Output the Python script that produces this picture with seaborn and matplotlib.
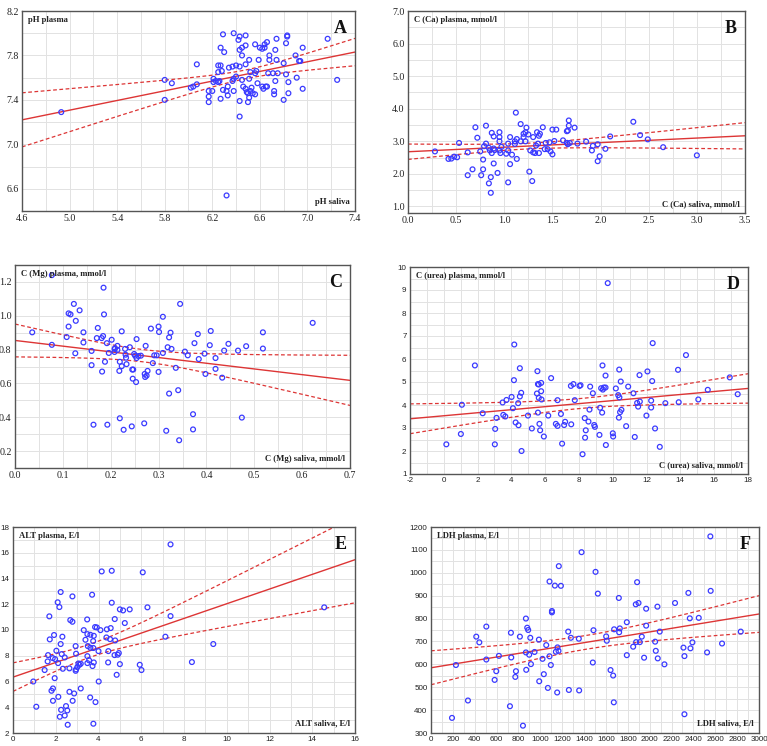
import numpy as np
import matplotlib
matplotlib.use("Agg")
import matplotlib.pyplot as plt
import seaborn as sns
from matplotlib.ticker import MultipleLocator

# ---- data ----
ph_saliva = [4.93, 5.80, 5.80, 5.86, 6.02, 6.04, 6.07, 6.07, 6.17, 6.17, 6.17, 6.20, 6.21, 6.21,
             6.23, 6.25, 6.25, 6.25, 6.26, 6.27, 6.27, 6.28, 6.27, 6.29, 6.30, 6.29, 6.32, 6.33,
             6.33, 6.34, 6.32, 6.37, 6.37, 6.38, 6.38, 6.38, 6.40, 6.40, 6.42, 6.43, 6.43, 6.43,
             6.43, 6.43, 6.45, 6.45, 6.45, 6.46, 6.48, 6.48, 6.48, 6.48, 6.49, 6.50, 6.50, 6.51,
             6.51, 6.51, 6.52, 6.52, 6.53, 6.54, 6.56, 6.56, 6.56, 6.57, 6.58, 6.59, 6.60, 6.62,
             6.62, 6.63, 6.64, 6.64, 6.65, 6.66, 6.66, 6.67, 6.68, 6.68, 6.71, 6.72, 6.72, 6.73,
             6.73, 6.74, 6.74, 6.75, 6.80, 6.80, 6.82, 6.82, 6.83, 6.83, 6.84, 6.84, 6.90, 6.91,
             6.93, 6.94, 6.96, 6.96, 7.17, 7.25]
ph_plasma = [7.29, 7.58, 7.40, 7.55, 7.51, 7.52, 7.54, 7.72, 7.48, 7.43, 7.38, 7.48, 7.59, 7.56,
             7.57, 7.56, 7.65, 7.71, 7.57, 7.71, 7.87, 7.66, 7.41, 7.99, 7.83, 7.49, 7.48, 7.52,
             7.44, 7.69, 6.54, 7.70, 7.57, 7.59, 7.48, 8.00, 7.61, 7.71, 7.94, 7.97, 7.85, 7.70,
             7.39, 7.25, 7.80, 7.87, 7.58, 7.52, 7.98, 7.89, 7.72, 7.50, 7.47, 7.46, 7.38, 7.42,
             7.76, 7.59, 7.65, 7.48, 7.51, 7.46, 7.90, 7.45, 7.64, 7.66, 7.55, 7.76, 7.87, 7.52,
             7.86, 7.50, 7.90, 7.87, 7.52, 7.92, 7.52, 7.64, 7.80, 7.76, 7.64, 7.48, 7.45, 7.57,
             7.85, 7.76, 7.95, 7.64, 7.73, 7.40, 7.91, 7.63, 7.98, 7.97, 7.56, 7.46, 7.80, 7.60,
             7.75, 7.75, 7.50, 7.87, 7.95, 7.58]

ca_saliva = [0.28, 0.42, 0.45, 0.48, 0.51, 0.53, 0.62, 0.62, 0.67, 0.70, 0.72, 0.75, 0.76, 0.78,
             0.78, 0.79, 0.81, 0.81, 0.84, 0.84, 0.85, 0.86, 0.86, 0.87, 0.87, 0.89, 0.89, 0.89,
             0.90, 0.93, 0.95, 0.95, 0.95, 0.95, 0.96, 0.97, 1.02, 1.04, 1.04, 1.04, 1.06, 1.06,
             1.08, 1.11, 1.11, 1.12, 1.13, 1.13, 1.17, 1.17, 1.20, 1.20, 1.22, 1.22, 1.23, 1.25,
             1.26, 1.27, 1.29, 1.30, 1.30, 1.32, 1.33, 1.34, 1.35, 1.36, 1.36, 1.37, 1.40, 1.42,
             1.43, 1.45, 1.47, 1.48, 1.50, 1.50, 1.52, 1.54, 1.61, 1.65, 1.65, 1.66, 1.66, 1.67,
             1.67, 1.68, 1.73, 1.76, 1.85, 1.91, 1.92, 1.97, 1.97, 1.99, 2.05, 2.10, 2.34, 2.41,
             2.49, 2.65, 3.00]
ca_plasma = [2.69, 2.46, 2.47, 2.53, 2.51, 2.95, 2.66, 1.96, 2.14, 3.43, 3.11, 2.69, 1.96, 2.14,
             2.44, 2.85, 3.48, 2.93, 2.80, 1.71, 2.72, 1.90, 1.42, 2.64, 3.26, 3.15, 2.78, 2.32,
             2.73, 2.03, 3.28, 3.13, 3.00, 2.72, 2.64, 2.83, 2.62, 2.72, 1.74, 2.93, 2.30, 3.13,
             2.59, 3.00, 2.92, 3.88, 2.46, 3.07, 3.00, 3.53, 3.13, 3.23, 3.28, 3.00, 3.42, 3.21,
             2.07, 2.72, 1.78, 2.66, 3.13, 2.64, 2.87, 3.28, 2.93, 2.64, 3.17, 3.23, 3.43, 2.76,
             2.95, 2.76, 2.97, 2.69, 3.36, 2.60, 3.01, 3.36, 3.03, 3.31, 2.95, 3.33, 2.91, 3.48,
             3.64, 2.95, 3.42, 2.93, 2.99, 2.72, 2.86, 2.91, 2.39, 2.54, 2.77, 3.15, 3.60, 3.19,
             3.06, 2.82, 2.57]

mg_saliva = [0.036, 0.077, 0.077, 0.108, 0.112, 0.112, 0.116, 0.123, 0.127, 0.126, 0.135, 0.143,
             0.143, 0.160, 0.160, 0.164, 0.171, 0.173, 0.181, 0.182, 0.184, 0.185, 0.186, 0.188,
             0.192, 0.193, 0.196, 0.202, 0.208, 0.208, 0.209, 0.214, 0.214, 0.218, 0.219, 0.219,
             0.223, 0.223, 0.227, 0.230, 0.231, 0.232, 0.233, 0.240, 0.244, 0.245, 0.247, 0.246,
             0.249, 0.251, 0.253, 0.254, 0.254, 0.258, 0.263, 0.270, 0.271, 0.273, 0.272, 0.275,
             0.277, 0.284, 0.288, 0.291, 0.296, 0.300, 0.300, 0.301, 0.309, 0.309, 0.316, 0.319,
             0.322, 0.322, 0.325, 0.327, 0.336, 0.341, 0.343, 0.345, 0.355, 0.361, 0.372, 0.372,
             0.375, 0.382, 0.384, 0.396, 0.398, 0.407, 0.409, 0.419, 0.419, 0.433, 0.437, 0.446,
             0.466, 0.474, 0.483, 0.518, 0.518, 0.622]
mg_plasma = [0.902, 1.240, 0.828, 0.874, 1.014, 0.936, 1.008, 1.070, 0.970, 0.778, 1.032, 0.902,
             0.842, 0.792, 0.708, 0.356, 0.868, 0.928, 0.868, 0.670, 0.880, 1.166, 1.008, 0.728,
             0.838, 0.356, 0.780, 0.858, 0.804, 0.786, 0.808, 0.822, 0.798, 0.674, 0.394, 0.728,
             0.908, 0.702, 0.326, 0.804, 0.770, 0.752, 0.714, 0.814, 0.346, 0.682, 0.682, 0.628,
             0.774, 0.764, 0.608, 0.862, 0.750, 0.762, 0.764, 0.364, 0.656, 0.822, 0.638, 0.646,
             0.674, 0.924, 0.720, 0.766, 0.766, 0.936, 0.668, 0.904, 0.780, 0.994, 0.320, 0.814,
             0.872, 0.540, 0.900, 0.804, 0.692, 0.560, 0.264, 1.070, 0.788, 0.766, 0.418, 0.328,
             0.838, 0.892, 0.744, 0.776, 0.656, 0.826, 0.910, 0.750, 0.686, 0.634, 0.794, 0.834,
             0.794, 0.398, 0.820, 0.902, 0.806, 0.958]

urea_saliva = [0.15, 1.01, 1.07, 1.84, 2.30, 3.04, 3.02, 3.12, 3.48, 3.52, 3.64, 3.71, 4.01, 4.09,
               4.15, 4.17, 4.25, 4.40, 4.42, 4.50, 4.50, 4.58, 4.60, 4.98, 5.21, 5.51, 5.54, 5.57,
               5.57, 5.62, 5.62, 5.66, 5.70, 5.76, 5.76, 5.78, 5.92, 6.18, 6.35, 6.63, 6.73, 6.73,
               6.93, 7.00, 7.12, 7.18, 7.52, 7.54, 7.67, 7.75, 8.03, 8.09, 8.21, 8.34, 8.36, 8.40,
               8.56, 8.62, 8.66, 8.82, 8.90, 8.94, 9.21, 9.25, 9.31, 9.37, 9.39, 9.41, 9.47, 9.57,
               9.57, 9.59, 9.70, 10.00, 10.02, 10.18, 10.32, 10.36, 10.38, 10.39, 10.43, 10.47,
               10.51, 10.79, 10.91, 11.22, 11.30, 11.44, 11.50, 11.58, 11.60, 11.99, 12.05, 12.27,
               12.27, 12.33, 12.36, 12.50, 12.78, 13.11, 13.86, 13.90, 14.33, 15.06, 15.62, 16.92,
               17.39]
urea_plasma = [2.29, 2.74, 4.01, 5.72, 3.64, 2.96, 2.29, 3.44, 4.11, 3.57, 3.50, 4.22, 4.35, 3.86,
               5.08, 6.63, 3.24, 4.08, 3.12, 4.37, 5.60, 4.53, 2.00, 3.54, 2.98, 4.50, 5.47, 3.67,
               4.91, 4.89, 4.31, 3.18, 2.90, 4.96, 4.60, 4.24, 2.63, 3.54, 5.17, 3.18, 4.21, 3.09,
               3.61, 2.32, 3.13, 3.27, 4.83, 3.16, 4.91, 4.21, 4.83, 4.86, 1.86, 3.43, 2.58, 2.90,
               3.28, 3.80, 4.80, 4.51, 3.13, 3.05, 2.70, 3.88, 4.73, 3.67, 5.72, 4.67, 4.76, 4.76,
               5.28, 2.26, 9.30, 2.77, 2.63, 4.72, 4.43, 3.45, 5.54, 4.33, 3.69, 5.02, 3.79, 3.08,
               4.80, 4.51, 2.61, 4.09, 3.93, 5.30, 4.15, 3.54, 5.46, 4.19, 3.89, 5.04, 6.69, 2.98,
               2.18, 4.08, 5.53, 4.12, 6.17, 4.24, 4.66, 5.20, 4.47]

alt_saliva = [0.95, 1.09, 1.48, 1.62, 1.64, 1.70, 1.72, 1.80, 1.87, 1.87, 1.86, 1.92, 1.95, 1.97,
              2.03, 2.09, 2.11, 2.12, 2.17, 2.19, 2.23, 2.23, 2.25, 2.28, 2.31, 2.33, 2.42, 2.42,
              2.48, 2.54, 2.56, 2.64, 2.64, 2.68, 2.78, 2.78, 2.79, 2.86, 2.93, 2.93, 2.95, 2.95,
              3.01, 3.06, 3.11, 3.17, 3.17, 3.31, 3.39, 3.47, 3.48, 3.48, 3.48, 3.50, 3.56, 3.61,
              3.62, 3.62, 3.70, 3.72, 3.75, 3.76, 3.76, 3.78, 3.78, 3.84, 3.86, 3.92, 4.00, 4.01,
              4.09, 4.15, 4.37, 4.39, 4.45, 4.46, 4.54, 4.57, 4.62, 4.62, 4.75, 4.76, 4.78, 4.85,
              4.90, 4.95, 5.00, 5.00, 5.15, 5.23, 5.46, 5.93, 6.01, 6.07, 6.29, 7.13, 7.37, 7.37,
              8.37, 9.37, 14.56]
alt_plasma = [6.00, 4.04, 6.89, 7.56, 8.05, 11.06, 9.27, 5.28, 5.46, 4.50, 7.82, 9.61, 6.26, 7.74,
              8.39, 12.15, 7.43, 4.81, 11.78, 3.26, 12.95, 8.91, 3.80, 8.13, 9.48, 6.99, 7.87, 3.36,
              4.09, 3.75, 2.64, 7.02, 5.20, 10.77, 10.64, 12.61, 4.50, 5.07, 6.83, 8.75, 8.16, 6.94,
              7.12, 7.40, 7.30, 7.38, 5.46, 9.99, 9.24, 10.82, 7.43, 7.97, 9.68, 8.75, 7.64, 4.76,
              8.62, 9.63, 12.74, 7.20, 9.14, 2.72, 8.60, 9.55, 7.48, 10.23, 4.40, 10.20, 8.36, 6.00,
              9.99, 14.55, 9.42, 10.05, 7.48, 8.36, 9.29, 10.15, 14.60, 12.12, 8.05, 10.85, 9.19,
              6.52, 8.08, 8.21, 7.35, 11.60, 11.52, 10.54, 11.60, 7.30, 6.89, 14.48, 11.76, 9.48,
              16.65, 11.08, 7.51, 8.91, 11.76]

ldh_saliva = [192, 228, 338, 414, 442, 506, 506, 582, 597, 621, 722, 731, 734, 771, 777, 813, 841,
              868, 871, 868, 880, 889, 898, 908, 914, 947, 987, 990, 1020, 1032, 1054, 1069, 1084,
              1084, 1096, 1106, 1106, 1133, 1142, 1154, 1157, 1166, 1169, 1188, 1255, 1261, 1279,
              1352, 1355, 1377, 1480, 1486, 1505, 1526, 1602, 1608, 1642, 1666, 1672, 1675, 1718,
              1721, 1727, 1791, 1791, 1849, 1873, 1876, 1885, 1898, 1910, 1928, 1949, 1968, 1968,
              2050, 2056, 2071, 2074, 2092, 2135, 2232, 2309, 2318, 2318, 2354, 2367, 2373, 2391,
              2449, 2525, 2555, 2558, 2662, 2833]
ldh_plasma = [366, 597, 442, 721, 696, 765, 621, 532, 570, 637, 417, 738, 630, 545, 570, 721, 332,
              800, 576, 652, 760, 750, 642, 716, 601, 654, 708, 526, 624, 557, 684, 497, 962, 635,
              597, 833, 827, 944, 655, 477, 674, 659, 1029, 943, 743, 488, 716, 712, 486, 1090, 608,
              749, 1004, 909, 722, 703, 575, 551, 434, 753, 890, 740, 757, 784, 640, 677, 862, 697,
              959, 868, 697, 721, 629, 843, 769, 699, 659, 852, 626, 743, 600, 868, 673, 636, 382,
              912, 801, 670, 696, 803, 652, 1159, 921, 691, 743]

# regression lines as drawn in the picture: (intercept, slope)
fit_A = (6.218, 0.2179)
fit_B = (2.68, 0.14)
fit_C = (0.854, -0.337)
fit_D = (3.532, 0.066)
fit_E = (6.34, 0.57)
fit_F = (585.0, 0.0783)

W, H = 767, 746

panels = [
    # letter, x, y, fit, x label, y label, rect(l, t, r, b) in px, xlim, ylim, x step, y step, serif ticks
    ("A", ph_saliva, ph_plasma, fit_A, "pH saliva", "pH plasma", (22, 11, 355, 211),
     (4.6, 7.4), (6.4, 8.2), 0.4, 0.4, True),
    ("B", ca_saliva, ca_plasma, fit_B, "C (Ca) saliva, mmol/l", "C (Ca) plasma, mmol/l", (408, 11, 745, 213),
     (0, 3.5), (0.8, 7.0), 0.5, 1.0, True),
    ("C", mg_saliva, mg_plasma, fit_C, "C (Mg) saliva, mmol/l", "C (Mg) plasma, mmol/l", (15, 265, 350, 468),
     (0, 0.7), (0.1, 1.3), 0.1, 0.2, True),
    ("D", urea_saliva, urea_plasma, fit_D, "C (urea) saliva, mmol/l", "C (urea) plasma, mmol/l", (410, 267, 748, 474),
     (-2, 18), (1, 10), 2, 1, False),
    ("E", alt_saliva, alt_plasma, fit_E, "ALT saliva, E/l", "ALT plasma, E/l", (13, 527, 355, 733),
     (0, 16), (2, 18), 2, 2, False),
    ("F", ldh_saliva, ldh_plasma, fit_F, "LDH saliva, E/l", "LDH plasma, E/l", (431, 527, 759, 733),
     (0, 3000), (300, 1200), 200, 100, False),
]

serif = "Liberation Serif"
sans = "Liberation Sans"
blue = "#3a3aff"
red = "#dd3535"

sns.set_style("white")
plt.rcParams["font.family"] = serif
plt.rcParams["axes.unicode_minus"] = False

fig = plt.figure(figsize=(W / 100, H / 100), dpi=100)

for letter, xs, ys, (icpt, slope), xlab, ylab, (l, t, r, b), xlim, ylim, xstep, ystep, serif_ticks in panels:
    ax = fig.add_axes([l / W, 1 - b / H, (r - l) / W, (b - t) / H])
    x = np.array(xs, dtype=float)
    y = np.array(ys, dtype=float)

    # regression line with 95% confidence bands
    n = len(x)
    resid = y - (icpt + slope * x)
    s = np.sqrt(np.sum(resid ** 2) / (n - 2))
    sxx = np.sum((x - x.mean()) ** 2)
    gx = np.linspace(xlim[0], xlim[1], 200)
    fit = icpt + slope * gx
    half = 1.984 * s * np.sqrt(1 / n + (gx - x.mean()) ** 2 / sxx)

    ax.plot(gx, fit, color=red, lw=1.0, zorder=2)
    ax.plot(gx, fit + half, color=red, lw=0.9, ls=(0, (3, 2)), zorder=2)
    ax.plot(gx, fit - half, color=red, lw=0.9, ls=(0, (3, 2)), zorder=2)
    sns.scatterplot(x=x, y=y, ax=ax, marker="o", s=12, facecolors="none",
                    edgecolor=blue, linewidth=0.9, zorder=3)

    ax.set_xlim(*xlim)
    ax.set_ylim(*ylim)
    ax.xaxis.set_major_locator(MultipleLocator(xstep))
    ax.yaxis.set_major_locator(MultipleLocator(ystep))
    ax.xaxis.set_minor_locator(MultipleLocator(xstep / 2))
    ax.yaxis.set_minor_locator(MultipleLocator(ystep / 2))
    if letter == "A":
        ax.set_xticks(np.arange(4.6, 7.41, 0.4))
        ax.set_yticks(np.arange(6.6, 8.21, 0.4))
    if letter == "C":
        ax.set_yticks(np.arange(0.2, 1.21, 0.2))
    ax.grid(True, which="both", color="#e2e2e2", lw=0.7, zorder=0)
    ax.set_axisbelow(True)
    ax.tick_params(which="both", direction="in", color="#444444", labelcolor="#222222",
                   top=False, right=False)
    ax.tick_params(which="major", length=3, width=0.7, labelsize=7.2 if serif_ticks else 5.8, pad=2.5)
    ax.tick_params(which="minor", length=2, width=0.5)
    if letter in ("A", "B", "C"):
        fmt = "{:.1f}"
        ax.set_xticklabels([fmt.format(v) for v in ax.get_xticks()])
        ax.set_yticklabels([fmt.format(v) for v in ax.get_yticks()])
    for lab in ax.get_xticklabels() + ax.get_yticklabels():
        lab.set_family(serif if serif_ticks else sans)
    for sp in ax.spines.values():
        sp.set_color("#555555")
        sp.set_linewidth(1.0)
    ax.set_xlabel("")
    ax.set_ylabel("")

    ax.text(0.018, 0.975, ylab, transform=ax.transAxes, ha="left", va="top",
            fontsize=6.2, fontweight="bold", color="#222222")
    ax.text(0.985, 0.025, xlab, transform=ax.transAxes, ha="right", va="bottom",
            fontsize=6.2, fontweight="bold", color="#222222")
    ax.text(0.975, 0.955, letter, transform=ax.transAxes, ha="right", va="top",
            fontsize=13, fontweight="bold", color="#111111")

fig.savefig("out.png", dpi=100)
